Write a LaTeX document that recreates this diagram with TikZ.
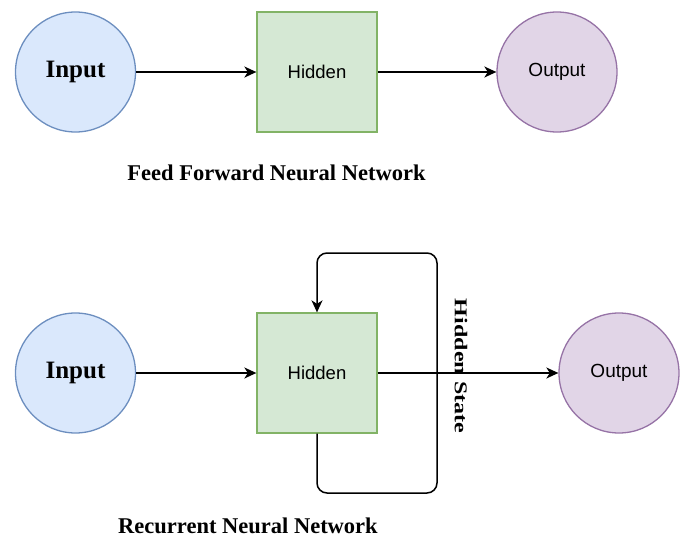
\documentclass[tikz,border=0pt]{standalone}
\usepackage{fontspec}
\setmainfont{Liberation Serif}
\newfontfamily\sansf{Liberation Sans}
\usetikzlibrary{arrows.meta}
\definecolor{bfill}{HTML}{DAE8FC}\definecolor{bdraw}{HTML}{6C8EBF}
\definecolor{gfill}{HTML}{D5E8D4}\definecolor{gdraw}{HTML}{82B366}
\definecolor{pfill}{HTML}{E1D5E7}\definecolor{pdraw}{HTML}{9673A6}
\begin{document}
\begin{tikzpicture}[x=1pt,y=-1pt,
  incirc/.style={circle,fill=bfill,draw=bdraw,line width=1.3pt,minimum size=120pt,inner sep=0pt,font=\fontsize{25}{28}\selectfont\bfseries},
  hidbox/.style={rectangle,fill=gfill,draw=gdraw,line width=1.3pt,minimum size=120pt,inner sep=0pt,font=\sansf\fontsize{18.5}{22}\selectfont},
  outcirc/.style={circle,fill=pfill,draw=pdraw,line width=1.3pt,minimum size=120pt,inner sep=0pt,font=\sansf\fontsize{19}{22}\selectfont},
  tip/.style={-{Stealth[length=12pt,width=11pt,inset=3.5pt]}},
  conn/.style={line width=1.7pt,tip},
  loopline/.style={line width=1.5pt,rounded corners=10pt,tip},
  caption/.style={font=\fontsize{22.5}{26}\selectfont\bfseries,anchor=base,inner sep=0pt}]
\useasboundingbox (0,0) rectangle (681,538);
% Feed forward
\node[incirc] (in1) at (75.5,72) {Input};
\node[hidbox] (h1) at (317,72) {Hidden};
\node[outcirc] (out1) at (557,72) {Output};
\draw[conn] (in1) -- (h1);
\draw[conn] (h1) -- (out1);
\node[caption] (ffcap) at (276.5,180) {Feed Forward Neural Network};
% Recurrent
\node[incirc] (in2) at (75.5,373) {Input};
\node[hidbox] (h2) at (317,373) {Hidden};
\node[outcirc] (out2) at (619,373) {Output};
\coordinate (lb) at (437,493);
\coordinate (lt) at (437,253);
\draw[loopline] (h2.south) |- (lb) -- (lt) -| (h2.north);
\draw[conn] (in2) -- (h2);
\draw[conn] (h2) -- (out2);
\node[rotate=-90,inner sep=0pt,font=\fontsize{24}{26}\selectfont\bfseries] (hs) at (461,366) {\scalebox{1}[0.75]{Hidden State}};
\node[caption] (rnncap) at (248,533) {Recurrent Neural Network};
\end{tikzpicture}
\end{document}
